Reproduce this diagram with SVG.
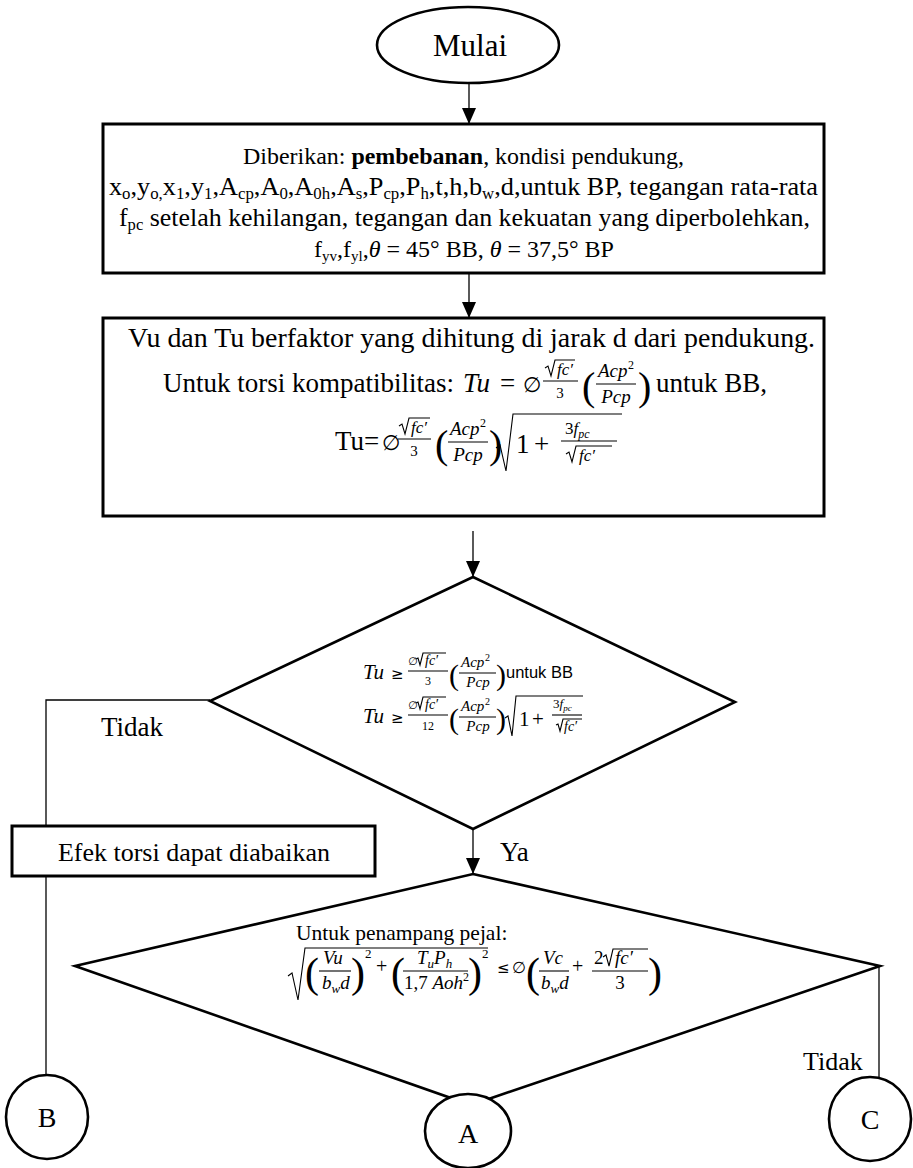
<svg xmlns="http://www.w3.org/2000/svg" width="913" height="1168" viewBox="0 0 913 1168">
  <defs>
    <marker id="arrow" markerUnits="userSpaceOnUse" markerWidth="16" markerHeight="16" refX="16" refY="7" orient="auto">
      <path d="M0,0 L16,7 L0,14 Z" fill="#000"/>
    </marker>
    <style>
      .shape { fill: #fff; stroke: #000; stroke-width: 2.6; }
      .box { fill: #fff; stroke: #000; stroke-width: 3; }
      .conn { fill: none; stroke: #000; stroke-width: 1.3; }
      .rule { fill: none; stroke: #000; stroke-width: 1.1; }
      .t { font-family: "Liberation Serif", "Times New Roman", serif; fill: #000; }
      .mi { font-family: "Liberation Serif", "Times New Roman", serif; font-style: italic; fill: #000; }
      .sym { font-family: "DejaVu Sans", sans-serif; fill: #000; }
      .sans { font-family: "Liberation Sans", Arial, sans-serif; fill: #000; }
    </style>
  </defs>

  <!-- connectors -->
  <g id="connectors">
    <line class="conn" x1="469" y1="83" x2="469" y2="124" marker-end="url(#arrow)"/>
    <line class="conn" x1="469" y1="273" x2="469" y2="318" marker-end="url(#arrow)"/>
    <line class="conn" x1="473" y1="531" x2="473" y2="577" marker-end="url(#arrow)"/>
    <line class="conn" x1="473" y1="829" x2="473" y2="874" marker-end="url(#arrow)"/>
    <polyline class="conn" points="210,700 46,700 46,826"/>
    <line class="conn" x1="46" y1="876" x2="46" y2="1076"/>
    <line class="conn" x1="879" y1="966" x2="879" y2="1078"/>
    <text class="t" x="101" y="736" font-size="27">Tidak</text>
    <text class="t" x="500" y="861" font-size="27">Ya</text>
    <text class="t" x="803" y="1070" font-size="26">Tidak</text>
  </g>

  <!-- start terminal -->
  <g id="mulai">
    <ellipse class="shape" cx="468" cy="45" rx="91" ry="38" stroke-width="2"/>
    <text class="t" x="470" y="56" font-size="31" text-anchor="middle">Mulai</text>
  </g>

  <!-- input data -->
  <g id="input">
    <rect class="box" x="103" y="124" width="721" height="149"/>
    <text class="t" x="243" y="164" font-size="24" textLength="441" lengthAdjust="spacingAndGlyphs">Diberikan: <tspan font-weight="bold">pembebanan</tspan>, kondisi pendukung,</text>
    <text class="t" x="109" y="195" font-size="25" textLength="709" lengthAdjust="spacingAndGlyphs">x<tspan font-size="16" dy="4">o</tspan><tspan dy="-4">,y</tspan><tspan font-size="16" dy="4">o,</tspan><tspan dy="-4">x</tspan><tspan font-size="16" dy="4">1</tspan><tspan dy="-4">,y</tspan><tspan font-size="16" dy="4">1</tspan><tspan dy="-4">,A</tspan><tspan font-size="16" dy="4">cp</tspan><tspan dy="-4">,A</tspan><tspan font-size="16" dy="4">0</tspan><tspan dy="-4">,A</tspan><tspan font-size="16" dy="4">0h</tspan><tspan dy="-4">,A</tspan><tspan font-size="16" dy="4">s</tspan><tspan dy="-4">,P</tspan><tspan font-size="16" dy="4">cp</tspan><tspan dy="-4">,P</tspan><tspan font-size="16" dy="4">h</tspan><tspan dy="-4">,t,h,b</tspan><tspan font-size="16" dy="4">w</tspan><tspan dy="-4">,d,untuk BP, tegangan rata-rata</tspan></text>
    <text class="t" x="119" y="226" font-size="25" textLength="691" lengthAdjust="spacingAndGlyphs">f<tspan font-size="16" dy="4">pc</tspan><tspan dy="-4"> setelah kehilangan, tegangan dan kekuatan yang diperbolehkan,</tspan></text>
    <text class="t" x="464" y="257" font-size="24" text-anchor="middle">f<tspan font-size="15" dy="4">yv</tspan><tspan dy="-4">,f</tspan><tspan font-size="15" dy="4">yl</tspan><tspan dy="-4">,</tspan><tspan font-style="italic">θ</tspan> = 45° BB, <tspan font-style="italic">θ</tspan> = 37,5° BP</text>
  </g>

  <!-- factored loads and compatibility torsion -->
  <g id="beban">
    <rect class="box" x="103" y="318" width="721" height="198"/>
    <text class="t" x="128" y="347" font-size="27.7" textLength="687" lengthAdjust="spacingAndGlyphs">Vu dan Tu berfaktor yang dihitung di jarak d dari pendukung.</text>
    <!-- line 2 -->
    <text class="t" x="163" y="392" font-size="27">Untuk torsi kompatibilitas:</text>
    <text class="mi" x="463" y="392" font-size="27">Tu</text>
    <text class="t" x="500" y="392" font-size="27">=</text>
    <text class="sym" x="523" y="392" font-size="21">∅</text>
    <polyline class="rule" points="545,368 548,366 551,376 555,360 575,360"/>
    <text class="mi" x="557" y="375" font-size="17">fc′</text>
    <line class="rule" x1="543" y1="381" x2="578" y2="381"/>
    <text class="t" x="560" y="398" font-size="15" text-anchor="middle">3</text>
    <text class="t" x="582" y="400" font-size="40">(</text>
    <text class="mi" x="598" y="377" font-size="19">Acp</text>
    <text class="t" x="628" y="369" font-size="12">2</text>
    <line class="rule" x1="596" y1="384" x2="636" y2="384"/>
    <text class="mi" x="616" y="403" font-size="19" text-anchor="middle">Pcp</text>
    <text class="t" x="638" y="400" font-size="40">)</text>
    <text class="t" x="656" y="392" font-size="27">untuk BB,</text>
    <!-- line 3 -->
    <text class="t" x="335" y="450" font-size="27">Tu=</text>
    <text class="sym" x="382" y="450" font-size="21">∅</text>
    <polyline class="rule" points="399,426 402,424 405,434 409,418 430,418"/>
    <text class="mi" x="411" y="433" font-size="17">fc′</text>
    <line class="rule" x1="398" y1="439" x2="431" y2="439"/>
    <text class="t" x="414" y="456" font-size="15" text-anchor="middle">3</text>
    <text class="t" x="435" y="458" font-size="40">(</text>
    <text class="mi" x="450" y="435" font-size="19">Acp</text>
    <text class="t" x="480" y="427" font-size="12">2</text>
    <line class="rule" x1="448" y1="442" x2="488" y2="442"/>
    <text class="mi" x="468" y="461" font-size="19" text-anchor="middle">Pcp</text>
    <text class="t" x="489" y="458" font-size="40">)</text>
    <polyline class="rule" points="496,448 500,445 506,471 513,414 622,414" stroke-width="1.4"/>
    <text class="t" x="516" y="453" font-size="27">1</text>
    <text class="t" x="534" y="453" font-size="27">+</text>
    <text class="t" x="565" y="434" font-size="17">3<tspan class="mi">f</tspan><tspan class="mi" font-size="12" dy="4">pc</tspan></text>
    <line class="rule" x1="561" y1="441" x2="617" y2="441"/>
    <polyline class="rule" points="566,454 569,452 572,462 576,446 612,446"/>
    <text class="mi" x="579" y="461" font-size="17">fc′</text>
  </g>

  <!-- torsion threshold check -->
  <g id="cek-torsi">
    <polygon class="shape" points="473,577 735,702 473,829 210,701"/>
    <!-- line 1 -->
    <text class="mi" x="363" y="679" font-size="21">Tu</text>
    <text class="sym" x="391" y="679" font-size="15">≥</text>
    <text class="sym" x="408" y="665" font-size="11">∅</text>
    <polyline class="rule" points="416,659 418,658 420,665 423,653 446,653" stroke-width="0.9"/>
    <text class="mi" x="425" y="665" font-size="14">fc′</text>
    <line class="rule" x1="408" y1="671" x2="448" y2="671" stroke-width="0.9"/>
    <text class="t" x="428" y="685" font-size="12" text-anchor="middle">3</text>
    <text class="t" x="449" y="685" font-size="30">(</text>
    <text class="mi" x="461" y="667" font-size="15">Acp</text>
    <text class="t" x="485" y="661" font-size="10">2</text>
    <line class="rule" x1="459" y1="673" x2="496" y2="673" stroke-width="0.9"/>
    <text class="mi" x="478" y="687" font-size="15" text-anchor="middle">Pcp</text>
    <text class="t" x="496" y="685" font-size="30">)</text>
    <text class="sans" x="506" y="678" font-size="16.5">untuk BB</text>
    <!-- line 2 -->
    <text class="mi" x="363" y="723" font-size="21">Tu</text>
    <text class="sym" x="391" y="723" font-size="15">≥</text>
    <text class="sym" x="408" y="709" font-size="11">∅</text>
    <polyline class="rule" points="416,703 418,702 420,709 423,697 446,697" stroke-width="0.9"/>
    <text class="mi" x="425" y="709" font-size="14">fc′</text>
    <line class="rule" x1="408" y1="715" x2="448" y2="715" stroke-width="0.9"/>
    <text class="t" x="428" y="730" font-size="12" text-anchor="middle">12</text>
    <text class="t" x="449" y="729" font-size="30">(</text>
    <text class="mi" x="461" y="711" font-size="15">Acp</text>
    <text class="t" x="485" y="705" font-size="10">2</text>
    <line class="rule" x1="459" y1="717" x2="496" y2="717" stroke-width="0.9"/>
    <text class="mi" x="478" y="731" font-size="15" text-anchor="middle">Pcp</text>
    <text class="t" x="496" y="729" font-size="30">)</text>
    <polyline class="rule" points="505,718 508,716 512,736 516,696 583,696" stroke-width="1.2"/>
    <text class="t" x="519" y="726" font-size="21">1</text>
    <text class="t" x="532" y="726" font-size="21">+</text>
    <text class="t" x="553" y="708" font-size="13">3<tspan class="mi">f</tspan><tspan class="mi" font-size="9" dy="3">pc</tspan></text>
    <line class="rule" x1="552" y1="715" x2="582" y2="715" stroke-width="0.9"/>
    <polyline class="rule" points="556,725 558,724 560,731 563,719 582,719" stroke-width="0.9"/>
    <text class="mi" x="564" y="731" font-size="14">fc′</text>
  </g>

  <!-- negligible torsion -->
  <g id="abaikan">
    <rect class="box" x="12" y="826" width="363" height="50" stroke-width="2.6"/>
    <text class="t" x="194" y="861" font-size="26" text-anchor="middle">Efek torsi dapat diabaikan</text>
  </g>

  <!-- solid section capacity check -->
  <g id="cek-penampang">
    <polygon class="shape" points="473,874 880,966 471,1105 75,966"/>
    <text class="t" x="296" y="940" font-size="21.5">Untuk penampang pejal:</text>
    <polyline class="rule" points="288,976 292,973 298,1000 305,948 488,948" stroke-width="1.3"/>
    <text class="t" x="305" y="987" font-size="42">(</text>
    <text class="mi" x="323" y="964" font-size="19">Vu</text>
    <line class="rule" x1="319" y1="971" x2="351" y2="971"/>
    <text class="mi" x="322" y="989" font-size="19">b<tspan font-size="13" dy="4">w</tspan><tspan dy="-4">d</tspan></text>
    <text class="t" x="351" y="987" font-size="42">)</text>
    <text class="t" x="365" y="958" font-size="13">2</text>
    <text class="t" x="376" y="973" font-size="20">+</text>
    <text class="t" x="391" y="987" font-size="42">(</text>
    <text class="mi" x="417" y="964" font-size="19">T<tspan font-size="13" dy="4">u</tspan><tspan dy="-4">P</tspan><tspan font-size="13" dy="4">h</tspan></text>
    <line class="rule" x1="403" y1="971" x2="468" y2="971"/>
    <text class="t" x="404" y="989" font-size="19">1,7 <tspan class="mi">Aoh</tspan><tspan font-size="12" dy="-8">2</tspan></text>
    <text class="t" x="468" y="987" font-size="42">)</text>
    <text class="t" x="482" y="958" font-size="13">2</text>
    <text class="sym" x="497" y="973" font-size="15">≤</text>
    <text class="sym" x="512" y="973" font-size="16">∅</text>
    <text class="t" x="526" y="987" font-size="42">(</text>
    <text class="mi" x="543" y="964" font-size="19">Vc</text>
    <line class="rule" x1="539" y1="971" x2="569" y2="971"/>
    <text class="mi" x="541" y="989" font-size="19">b<tspan font-size="13" dy="4">w</tspan><tspan dy="-4">d</tspan></text>
    <text class="t" x="572" y="973" font-size="20">+</text>
    <text class="t" x="594" y="964" font-size="19">2</text>
    <polyline class="rule" points="603,957 606,955 609,966 613,949 648,949"/>
    <text class="mi" x="615" y="964" font-size="19">fc′</text>
    <line class="rule" x1="592" y1="971" x2="648" y2="971"/>
    <text class="t" x="620" y="989" font-size="19" text-anchor="middle">3</text>
    <text class="t" x="648" y="987" font-size="42">)</text>
  </g>

  <!-- off-page connectors -->
  <g id="konektor-b">
    <ellipse class="shape" cx="47" cy="1117" rx="41" ry="42" stroke-width="2"/>
    <text class="t" x="47" y="1127" font-size="28" text-anchor="middle">B</text>
  </g>
  <g id="konektor-a">
    <ellipse class="shape" cx="468" cy="1131" rx="43" ry="37" stroke-width="2"/>
    <text class="t" x="468" y="1143" font-size="28" text-anchor="middle">A</text>
  </g>
  <g id="konektor-c">
    <ellipse class="shape" cx="870" cy="1119" rx="41" ry="42" stroke-width="2"/>
    <text class="t" x="870" y="1129" font-size="28" text-anchor="middle">C</text>
  </g>
</svg>
